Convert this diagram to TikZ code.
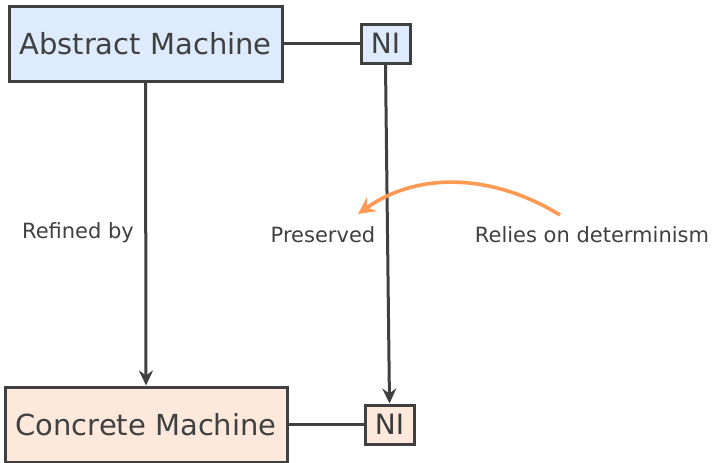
\documentclass[tikz,border=0pt]{standalone}
\usepackage{fontspec}
\setmainfont{DejaVu Sans}
\usetikzlibrary{arrows.meta}
\definecolor{ink}{HTML}{404040}
\definecolor{bluefill}{HTML}{DDEBFC}
\definecolor{peachfill}{HTML}{FDE9DC}
\definecolor{accent}{HTML}{FF9A55}
\begin{document}
\begin{tikzpicture}[x=1pt,y=-1pt,
  machine/.style={draw=ink,line width=3pt,inner sep=0pt,text=ink,font=\fontsize{29}{34}\selectfont},
  nibox/.style={draw=ink,line width=3pt,inner sep=0pt,text=ink,font=\fontsize{28}{34}\selectfont},
  conn/.style={draw=ink,line width=3pt},
  arr/.style={conn,-{Stealth[length=15pt,width=14pt,inset=5pt]}},
  lbl/.style={text=ink,font=\fontsize{21}{25}\selectfont}]
\useasboundingbox (0,0) rectangle (715,463);
% machines
\node[machine,fill=bluefill,minimum width=273pt,minimum height=75pt] (am) at (145.5,43.5) {Abstract Machine};
\node[machine,fill=peachfill,minimum width=282pt,minimum height=75pt] (cm) at (146,424.5) {Concrete Machine};
% noninterference markers
\node[nibox,fill=bluefill,minimum width=49pt,minimum height=39pt] (nia) at (385.5,43.5) {NI};
\node[nibox,fill=peachfill,minimum width=49pt,minimum height=39pt,text=ink!90!black] (nic) at (389.5,424.5) {NI};
% links
\draw[conn] (am.east) -- (nia.west);
\draw[conn] (cm.east) -- (nic.west);
\draw[arr] (am.south) -- (cm.north);
\draw[arr] (nia.south) -- (nic.north);
\node[lbl] (ref) at (78,233) {Refined by};
\node[lbl] (pres) at (323,235) {Preserved};
\node[lbl] (rel) at (592,235) {Relies on determinism};
\coordinate (relstart) at (560,215);
\coordinate (relend) at (358,214);
\draw[accent,line width=3.6pt,-{Stealth[length=17pt,width=17pt,inset=6pt]}] (relstart) .. controls (495,175) and (420,170) .. (relend);
\end{tikzpicture}
\end{document}
